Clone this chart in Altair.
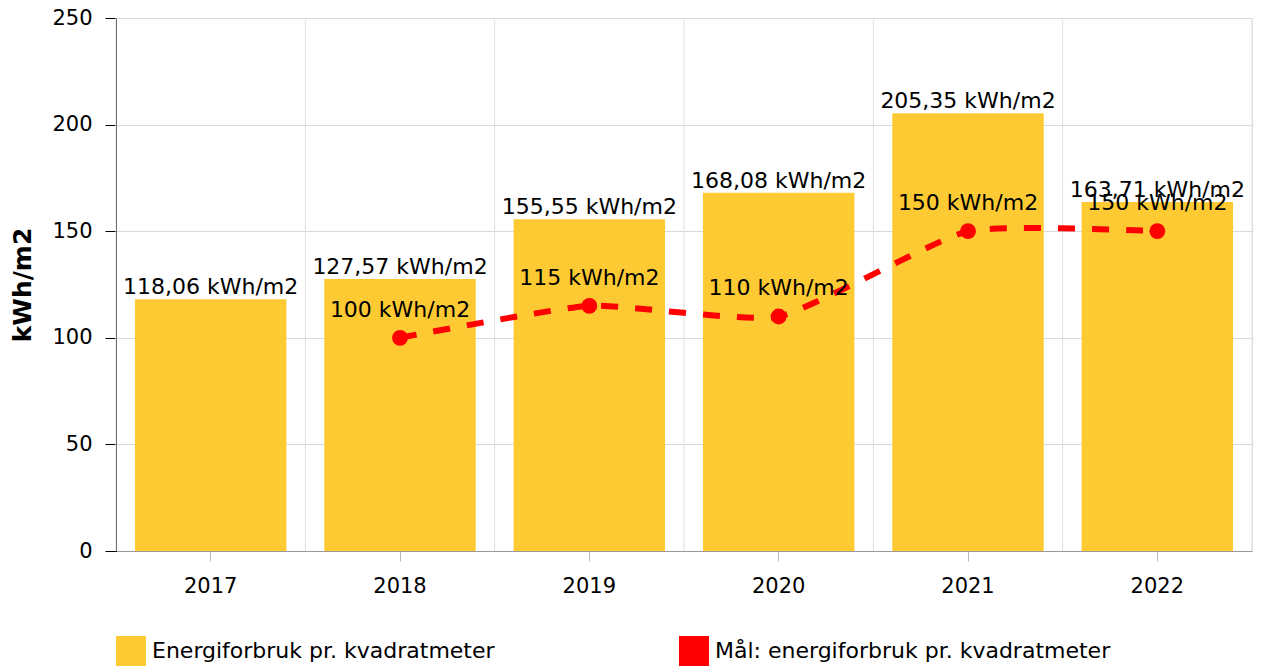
import altair as alt
import pandas as pd

years = ["2017", "2018", "2019", "2020", "2021", "2022"]
usage = [118.06, 127.57, 155.55, 168.08, 205.35, 163.71]
target_years = ["2018", "2019", "2020", "2021", "2022"]
targets = [100, 115, 110, 150, 150]
bar_name = "Energiforbruk pr. kvadratmeter"
line_name = "Mål: energiforbruk pr. kvadratmeter"
y_ticks = [0, 50, 100, 150, 200, 250]

W, H = 1136, 533
FONT = "DejaVu Sans"

bars_df = pd.DataFrame({
    "year": years,
    "value": usage,
    "label": [f"{v:.2f}".replace(".", ",") + " kWh/m2" for v in usage],
    "series": bar_name,
})
line_df = pd.DataFrame({
    "year": target_years,
    "value": targets,
    "label": [f"{v} kWh/m2" for v in targets],
    "series": line_name,
})
bounds_df = pd.DataFrame({"b": list(range(len(years) + 1))})

color_scale = alt.Scale(domain=[bar_name, line_name], range=["#fdca33", "#ff0000"])
legend = alt.Legend(
    title=None, orient="none", legendX=0, legendY=618, direction="horizontal",
    columns=2, symbolType="square", symbolSize=900, labelFontSize=22,
    labelColor="#000", columnPadding=184, labelOffset=6, symbolStrokeWidth=0,
    padding=0, symbolOpacity=1, labelLimit=0, labelFont=FONT,
)

xenc = alt.X(
    "year:N", sort=years,
    scale=alt.Scale(domain=years, paddingInner=0, paddingOuter=0),
    axis=alt.Axis(title=None, labelAngle=0, grid=False, domainColor="#999999",
                  tickColor="#bbbbbb", tickSize=10, labelPadding=14,
                  labelFontSize=21, labelColor="#000", labelFont=FONT),
)
yenc = alt.Y(
    "value:Q", scale=alt.Scale(domain=[0, 250], nice=False),
    axis=alt.Axis(values=y_ticks, title="kWh/m2", titleFontSize=25,
                  titleFontWeight="bold", titleAngle=-90, titleX=-94,
                  titleY=H / 2, titleAlign="center", titleBaseline="middle",
                  titleColor="#000", titleFont=FONT,
                  domainColor="#000", tickColor="#000", tickSize=11,
                  labelPadding=13, labelFontSize=21, labelColor="#000",
                  labelFont=FONT, gridColor="#d9d9d9"),
)

bars = alt.Chart(bars_df).mark_bar(width=alt.RelativeBandSize(0.8)).encode(
    x=xenc, y=yenc,
    color=alt.Color("series:N", scale=color_scale, legend=legend),
)
bar_text = alt.Chart(bars_df).mark_text(
    dy=-5, baseline="alphabetic", fontSize=22, color="#000", font=FONT
).encode(x=xenc, y=yenc, text="label:N")

line = alt.Chart(line_df).mark_line(
    color="#ff0000", strokeWidth=6, strokeDash=[17, 17], interpolate="cardinal",
    tension=0.5,
).encode(x=xenc, y=yenc)
points = alt.Chart(line_df).mark_circle(size=250, opacity=1).encode(
    x=xenc, y=yenc,
    color=alt.Color("series:N", scale=color_scale, legend=legend),
)
line_text = alt.Chart(line_df).mark_text(
    dy=-21, baseline="alphabetic", fontSize=22, color="#000", font=FONT
).encode(x=xenc, y=yenc, text="label:N")

inner = alt.layer(bars, bar_text, line, points, line_text)

rules = alt.Chart(bounds_df).mark_rule(color="#e0e0e0", strokeWidth=1).encode(
    x=alt.X("b:Q", scale=alt.Scale(domain=[0, len(years)], nice=False, zero=False), axis=None)
)

chart = alt.layer(rules, inner).resolve_scale(x="independent").properties(
    width=W, height=H,
    padding={"left": 108, "top": 10, "right": 1, "bottom": 115},
    autosize="none",
).configure_view(stroke=None).configure(font=FONT)

chart.save("out.html", embed_options={"renderer": "svg", "actions": False})
